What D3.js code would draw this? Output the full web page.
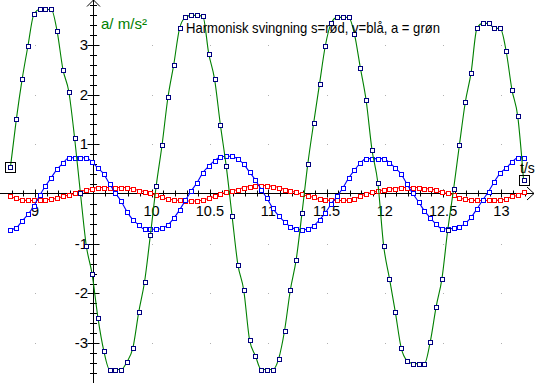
<!DOCTYPE html>
<html><head><meta charset="utf-8">
<script src="https://cdn.jsdelivr.net/npm/d3@7"></script>
<style>html,body{margin:0;padding:0;background:#fff;overflow:hidden}svg{display:block}</style>
</head><body>
<svg id="c" width="536" height="383"></svg>
<script>
// ---- data ----
const time = [8.79,8.84,8.89,8.94,8.99,9.04,9.09,9.14,9.19,9.24,9.29,9.34,9.39,9.44,9.49,9.54,9.59,9.64,9.69,9.74,
  9.79,9.84,9.89,9.94,9.99,10.04,10.09,10.14,10.19,10.24,10.29,10.34,10.39,10.44,10.49,10.54,10.59,10.64,10.69,10.74,
  10.79,10.84,10.89,10.94,10.99,11.04,11.09,11.14,11.19,11.24,11.29,11.34,11.39,11.44,11.49,11.54,11.59,11.64,11.69,11.74,
  11.79,11.84,11.89,11.94,11.99,12.04,12.09,12.14,12.19,12.24,12.29,12.34,12.39,12.44,12.49,12.54,12.59,12.64,12.69,12.74,
  12.79,12.84,12.89,12.94,12.99,13.04,13.09,13.14,13.19];
const sPos = [-0.05,-0.09,-0.12,-0.13,-0.13,-0.13,-0.12,-0.10,-0.09,-0.05,
  -0.02,0.01,0.05,0.08,0.11,0.13,0.13,0.13,0.13,0.13,
  0.13,0.10,0.07,0.05,0.01,-0.02,-0.07,-0.10,-0.12,-0.13,
  -0.14,-0.14,-0.14,-0.12,-0.09,-0.05,0.00,0.03,0.06,0.09,
  0.13,0.15,0.17,0.17,0.17,0.15,0.13,0.09,0.06,0.03,
  -0.01,-0.04,-0.07,-0.11,-0.12,-0.13,-0.13,-0.13,-0.12,-0.10,
  -0.05,0.00,0.03,0.06,0.08,0.10,0.11,0.13,0.13,0.13,
  0.13,0.11,0.10,0.08,0.03,0.01,-0.02,-0.09,-0.10,-0.12,
  -0.13,-0.13,-0.13,-0.13,-0.12,-0.10,-0.05,-0.03,0.03];
const vVel = [-0.72,-0.68,-0.54,-0.41,-0.24,-0.03,0.16,0.33,0.50,0.62,
  0.73,0.73,0.73,0.73,0.64,0.52,0.40,0.20,0.02,-0.15,
  -0.36,-0.52,-0.62,-0.71,-0.71,-0.71,-0.69,-0.62,-0.49,-0.32,
  -0.13,0.06,0.23,0.43,0.56,0.67,0.75,0.76,0.76,0.70,
  0.60,0.44,0.28,0.09,-0.09,-0.29,-0.44,-0.56,-0.66,-0.71,
  -0.72,-0.71,-0.64,-0.52,-0.38,-0.20,-0.05,0.12,0.32,0.48,
  0.62,0.71,0.71,0.71,0.71,0.63,0.52,0.40,0.20,0.01,
  -0.16,-0.34,-0.48,-0.61,-0.70,-0.70,-0.69,-0.66,-0.59,-0.47,
  -0.30,-0.12,0.05,0.25,0.42,0.52,0.64,0.73,0.73];
const aAcc = [0.55,1.50,2.31,2.98,3.61,3.71,3.71,3.71,3.27,2.50,
  2.06,1.12,0.01,-1.04,-1.61,-2.49,-3.15,-3.53,-3.53,-3.53,
  -3.37,-3.09,-2.37,-1.76,-0.82,0.17,0.99,1.94,2.60,3.33,
  3.55,3.59,3.59,3.57,2.82,2.31,1.39,0.56,-0.44,-1.42,
  -1.93,-2.93,-3.25,-3.53,-3.53,-3.53,-3.31,-2.75,-1.93,-1.32,
  -0.38,0.61,1.43,2.21,2.98,3.43,3.55,3.55,3.55,3.21,
  2.54,1.88,0.89,0.23,-1.04,-1.70,-2.37,-3.09,-3.35,-3.41,
  -3.41,-3.41,-2.97,-2.27,-1.70,-0.72,0.10,0.99,1.84,2.44,
  3.33,3.43,3.43,3.33,3.33,2.88,2.10,1.56,0.28];
const xTickLabels = [9, 10, 10.5, 11, 11.5, 12, 12.5, 13];
const yTickLabels = [-3, -2, -1, 1, 2, 3];
const gridX = [9, 10, 10.5, 11, 11.5, 12, 12.5, 13];
const gridY = [-3, -2, -1, 1, 2, 3];
const titleText = "Harmonisk svingning s=rød, v=blå, a = grøn";
const yAxisLabel = "a/ m/s²";
const xAxisLabel = "t/s";

// ---- scales ----
const x = d3.scaleLinear().domain([8.7, 13.3]).range([0, 536.4]);
const y = d3.scaleLinear().domain([-3.8, 3.9]).range([383, 0]);
const svg = d3.select("#c");
const FONT = "'Liberation Sans', Arial, Helvetica, sans-serif";
const ax = Math.round(x(9.5)) + 0.5;   // vertical axis line
const ay = Math.round(y(0)) - 0.5;     // horizontal axis line

// grid dots
const gd = [];
gridX.forEach(gx => gridY.forEach(gy => gd.push([gx, gy])));
svg.append("g").selectAll("rect").data(gd).join("rect")
  .attr("x", d => Math.round(x(d[0]))).attr("y", d => Math.round(y(d[1])))
  .attr("width", 1).attr("height", 1).attr("fill", "#b0b0b0");

// axes
const axes = svg.append("g").attr("stroke", "#000").attr("stroke-width", 1).attr("fill", "none");
axes.append("line").attr("x1", 0).attr("x2", 534).attr("y1", ay).attr("y2", ay);
axes.append("path").attr("d", `M527,${ay-6.5}L534,${ay}L527,${ay+6.5}`);
axes.append("line").attr("x1", ax).attr("x2", ax).attr("y1", 383).attr("y2", 0);
axes.append("path").attr("d", `M${ax-6.5},6.5L${ax},0L${ax+6.5},6.5`);

// x ticks every 0.1
const xt = d3.range(88, 133).map(d => d / 10).filter(d => Math.abs(d - 9.5) > 1e-6);
axes.selectAll("line.xt").data(xt).join("line").attr("class", "xt")
  .attr("x1", d => Math.round(x(d)) + 0.5).attr("x2", d => Math.round(x(d)) + 0.5)
  .attr("y1", d => ay - (Math.abs(d * 2 - Math.round(d * 2)) < 1e-6 ? 4 : 3))
  .attr("y2", d => ay + (Math.abs(d * 2 - Math.round(d * 2)) < 1e-6 ? 4 : 3));
// y ticks every 0.2
const yt = d3.range(-19, 20).map(d => d / 5).filter(d => d !== 0);
axes.selectAll("line.yt").data(yt).join("line").attr("class", "yt")
  .attr("y1", d => Math.round(y(d)) + 0.5).attr("y2", d => Math.round(y(d)) + 0.5)
  .attr("x1", d => ax - (Number.isInteger(d) ? 6 : 3.5))
  .attr("x2", d => ax + (Number.isInteger(d) ? 6 : 3.5));

// tick labels
svg.append("g").selectAll("text").data(xTickLabels).join("text")
  .attr("x", d => x(d)).attr("y", ay + 22).attr("text-anchor", "middle")
  .attr("font-family", FONT).attr("font-size", 14.5).attr("fill", "#000")
  .text(d => String(d));
svg.append("g").selectAll("text").data(yTickLabels).join("text")
  .attr("x", ax - 5.5).attr("y", d => y(d) + 5).attr("text-anchor", "end")
  .attr("font-family", FONT).attr("font-size", 15).attr("fill", "#000")
  .text(d => String(d));

// series
function series(vals, lineColor, markColor) {
  const pts = time.map((t, i) => ({ t: t, v: vals[i] }));
  const g = svg.append("g");
  g.append("path").datum(pts)
    .attr("d", d3.line().x(d => x(d.t)).y(d => y(d.v)).curve(d3.curveMonotoneX))
    .attr("fill", "none").attr("stroke", lineColor).attr("stroke-width", 1.1);
  g.selectAll("rect").data(pts).join("rect")
    .attr("x", d => Math.round(x(d.t)) - 1.5).attr("y", d => Math.round(y(d.v)) - 1.5)
    .attr("width", 4).attr("height", 4)
    .attr("fill", "#fff").attr("stroke", markColor).attr("stroke-width", 1);
  return pts;
}
series(sPos, "#ff0000", "#ff0000");
series(vVel, "#0000ff", "#0000ff");
const aPts = series(aAcc, "#008000", "#000080");
// start / end boxes of the selected series
svg.append("g").selectAll("rect").data([aPts[0], aPts[aPts.length - 1]]).join("rect")
  .attr("x", d => Math.round(x(d.t)) - 4.5).attr("y", d => Math.round(y(d.v)) - 4.5)
  .attr("width", 10).attr("height", 10)
  .attr("fill", "none").attr("stroke", "#000").attr("stroke-width", 1);

// texts
svg.append("text").attr("x", 186).attr("y", 33)
  .attr("font-family", FONT).attr("font-size", 14.5).attr("fill", "#000")
  .attr("textLength", 254).attr("lengthAdjust", "spacingAndGlyphs")
  .text(titleText);
svg.append("text").attr("x", 101).attr("y", 29)
  .attr("font-family", FONT).attr("font-size", 14.5).attr("fill", "#008000")
  .attr("textLength", 46).attr("lengthAdjust", "spacingAndGlyphs")
  .text(yAxisLabel);
svg.append("text").attr("x", 520).attr("y", 173)
  .attr("font-family", FONT).attr("font-size", 14).attr("fill", "#000")
  .text(xAxisLabel);
</script>
</body></html>
